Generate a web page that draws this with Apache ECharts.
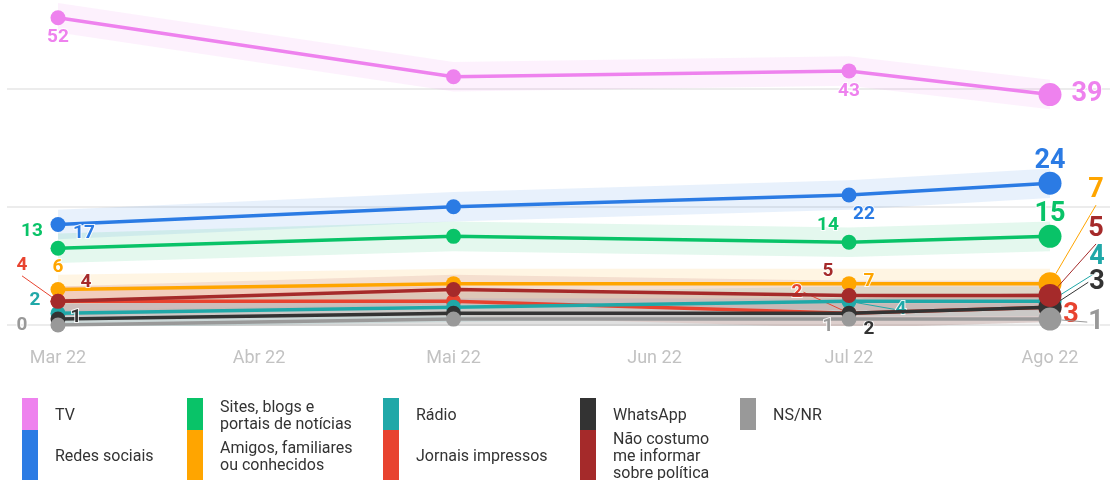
<!DOCTYPE html>
<html>
<head>
<meta charset="utf-8">
<script src="https://cdn.jsdelivr.net/npm/echarts@6/dist/echarts.min.js"></script>
<style>
html,body{margin:0;padding:0;background:#fff;}
#chart{width:1110px;height:480px;}
</style>
</head>
<body>
<div id="chart"></div>
<script>
// ---- data ----
const dates = ['2022-03-01', '2022-05-01', '2022-07-01', '2022-08-01'];
const monthNames = ['Jan', 'Fev', 'Mar', 'Abr', 'Mai', 'Jun', 'Jul', 'Ago', 'Set', 'Out', 'Nov', 'Dez'];
const seriesNames = ['TV', 'Redes sociais', 'Sites, blogs e portais de notícias', 'Amigos, familiares ou conhecidos',
  'Jornais impressos', 'Rádio', 'WhatsApp', 'Não costumo me informar sobre política', 'NS/NR'];
const tv = [52, 42, 43, 39];
const redesSociais = [17, 20, 22, 24];
const sites = [13, 15, 14, 15];
const amigos = [6, 7, 7, 7];
const jornais = [4, 4, 2, 3];
const radio = [2, 3, 4, 4];
const whatsapp = [1, 2, 2, 3];
const naoCostumo = [4, 6, 5, 5];
const nsnr = [0, 1, 1, 1];
const margin = 2.5;

// ---- styles ----
const colors = ['#ee82ee', '#2b7be4', '#09c368', '#ffa500', '#e8432f', '#20a8a8', '#333333', '#a52a2a', '#999999'];
const values = [tv, redesSociais, sites, amigos, jornais, radio, whatsapp, naoCostumo, nsnr];
// label offsets [dx, dy, leaderLine] per point (null = no label)
const labelOffsets = [
  [[0, 20], null, [0, 20], [37, 0]],
  [[26, 9], null, [15, 19], [0, -22]],
  [[-26, -17], null, [-21, -17], [0, -22]],
  [[0, -22], null, [20, -2], [46, -93, 1]],
  [[-36, -36, 1], null, [-52, -21, 1], [21, 8]],
  [[-23, -13], null, [52, 8, 1], [47, -44, 1]],
  [[18, -2], null, [20, 16], [47, -25, 1]],
  [[28, -19], null, [-21, -24], [46, -66, 1]],
  [[-36, 0], null, [-21, 7], [46, 3, 1]]
];
const legendLayout = [
  {i: 0, x: 22, y: 398, h: 32, text: 'TV'},
  {i: 1, x: 22, y: 430, h: 50, text: 'Redes sociais'},
  {i: 2, x: 187, y: 398, h: 32, text: 'Sites, blogs e\nportais de notícias'},
  {i: 3, x: 187, y: 430, h: 50, text: 'Amigos, familiares\nou conhecidos'},
  {i: 5, x: 383, y: 398, h: 32, text: 'Rádio'},
  {i: 4, x: 383, y: 430, h: 50, text: 'Jornais impressos'},
  {i: 6, x: 580, y: 398, h: 32, text: 'WhatsApp'},
  {i: 7, x: 580, y: 430, h: 50, text: 'Não costumo\nme informar\nsobre política'},
  {i: 8, x: 740, y: 398, h: 32, text: 'NS/NR'}
];

function parseDate(s) { const p = s.split('-').map(Number); return +new Date(p[0], p[1] - 1, p[2]); }
const times = dates.map(parseDate);
const gridLeft = 7, gridRight = 0, W = 1110;
const firstPx = 58, lastPx = 1050;
const pxPerMs = (lastPx - firstPx) / (times[times.length - 1] - times[0]);
const xMin = times[0] - (firstPx - gridLeft) / pxPerMs;
const xMax = times[times.length - 1] + (W - gridRight - lastPx) / pxPerMs;

const series = [];
// bands
values.forEach((vals, i) => {
  series.push({
    type: 'line', name: 'lo' + i, stack: 'band' + i, stackStrategy: 'all', silent: true,
    symbol: 'none', lineStyle: {opacity: 0}, z: 1,
    data: vals.map((v, k) => [times[k], v - margin])
  });
  series.push({
    type: 'line', name: 'band' + i, stack: 'band' + i, stackStrategy: 'all', silent: true,
    symbol: 'none', lineStyle: {opacity: 0}, z: 1,
    areaStyle: {color: colors[i], opacity: 0.11},
    data: vals.map((v, k) => [times[k], 2 * margin])
  });
});
// lines
values.forEach((vals, i) => {
  const last = vals.length - 1;
  series.push({
    type: 'line', name: seriesNames[i], z: 3 + i * 0.01,
    color: colors[i],
    lineStyle: {width: 3.5, color: colors[i]},
    itemStyle: {color: colors[i], opacity: 1},
    symbol: 'circle',
    symbolSize: (v, p) => p.dataIndex === last ? 23 : 15,
    showAllSymbol: true,
    emphasis: {disabled: true},
    labelLayout: (p) => {
      const o = labelOffsets[i][p.dataIndex];
      return o ? {dx: o[0], dy: o[1], hideOverlap: false} : {};
    },
    data: vals.map((v, k) => {
      const o = labelOffsets[i][k];
      const big = k === last;
      return {
        value: [times[k], v],
        label: {
          show: !!o, position: 'inside', color: colors[i],
          fontFamily: 'Roboto', fontWeight: 'bold', fontSize: big ? 27 : 19,
          textBorderColor: 'rgba(255,255,255,0.85)', textBorderWidth: 2,
          formatter: (p) => String(Math.round(p.value[1]))
        },
        labelLine: {show: !!(o && o[2]), length2: 0, smooth: false, lineStyle: {color: colors[i], width: 1}}
      };
    })
  });
});

const graphic = [];
legendLayout.forEach(l => {
  graphic.push({type: 'rect', left: l.x, top: l.y, shape: {x: 0, y: 0, width: 16, height: l.h},
    style: {fill: colors[l.i]}, silent: true});
  graphic.push({type: 'text', x: l.x + 33, y: l.y + l.h / 2 + 2,
    style: {text: l.text, fill: '#333', font: '16px Roboto', lineHeight: 17, verticalAlign: 'middle', align: 'left'}, silent: true});
});

const chart = echarts.init(document.getElementById('chart'), null, {renderer: 'canvas'});
chart.setOption({
  animation: false,
  backgroundColor: '#fff',
  grid: {left: gridLeft, right: gridRight, top: 0, bottom: 155, containLabel: false, outerBoundsMode: 'none'},
  xAxis: {
    type: 'time', min: xMin, max: xMax,
    minInterval: 28 * 86400000, maxInterval: 31 * 86400000,
    axisLine: {show: false}, axisTick: {show: false}, splitLine: {show: false},
    axisLabel: {
      interval: 0, hideOverlap: false, color: '#c2c2c2', fontFamily: 'Roboto', fontSize: 18, margin: 24,
      formatter: (val) => {
        const d = new Date(val);
        if (d.getDate() !== 1 || d.getHours() !== 0) return '';
        return monthNames[d.getMonth()] + ' ' + String(d.getFullYear()).slice(2);
      }
    }
  },
  yAxis: {
    type: 'value', min: 0, max: 55, interval: 20,
    axisLine: {show: false}, axisTick: {show: false}, axisLabel: {show: false},
    splitLine: {show: true, showMaxLine: false, lineStyle: {color: '#e6e6e6', width: 1.5}}
  },
  tooltip: {show: false},
  graphic: graphic,
  series: series
});
</script>
</body>
</html>
